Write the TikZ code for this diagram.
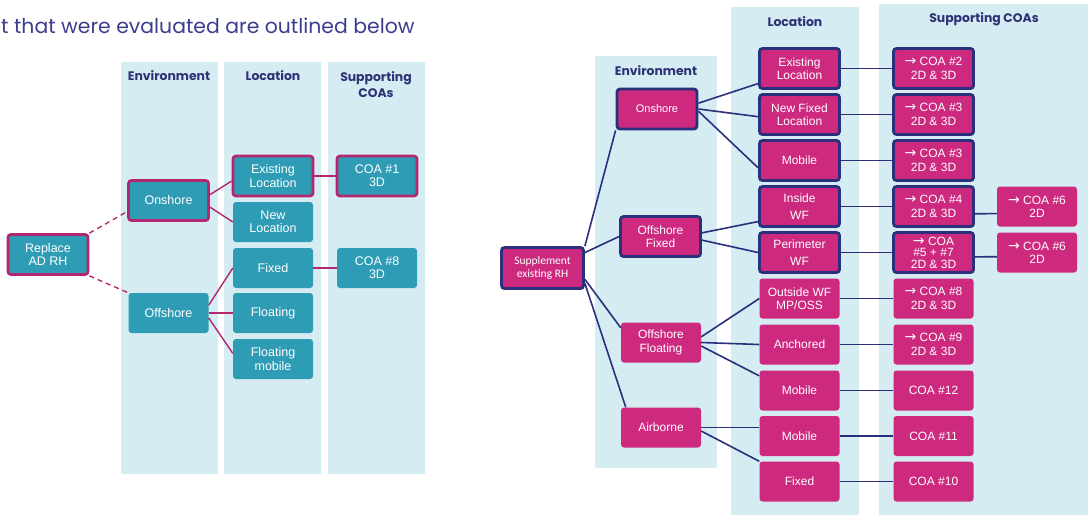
\documentclass[tikz,border=0pt]{standalone}
\usepackage{fontspec}
\setmainfont{Liberation Sans}
\newfontfamily\headfont{Poppins}
\newfontfamily\calfont{Carlito}
\newfontfamily\arrowfont{DejaVu Sans}
\usetikzlibrary{calc}

\definecolor{colbg}{HTML}{D4ECF2}
\definecolor{tealbox}{HTML}{2F9CB5}
\definecolor{magline}{HTML}{B2276F}
\definecolor{magbox}{HTML}{CD2A7F}
\definecolor{navy}{HTML}{2B2F7C}
\definecolor{headtxt}{HTML}{2E3175}
\definecolor{titletxt}{HTML}{3C3E8C}

\newcommand{\coaarrow}{{\arrowfont\fontsize{14}{13}\selectfont →}}

\begin{document}
\begin{tikzpicture}[x=1pt, y=-1pt,
	tealnode/.style={rectangle, rounded corners=3pt, fill=tealbox, text=white, align=center,
		minimum width=80, minimum height=40, inner sep=0pt, font=\fontsize{12.5}{13.3}\selectfont},
	tealhi/.style={tealnode, draw=magline, line width=2.8pt},
	magnode/.style={rectangle, rounded corners=3pt, fill=magbox, text=white, align=center,
		minimum width=80, minimum height=40, inner sep=0pt, font=\fontsize{12}{13.3}\selectfont},
	maghi/.style={magnode, draw=navy, line width=2.8pt},
	colhead/.style={text=headtxt, align=center, font=\headfont\bfseries\fontsize{12.4}{16}\selectfont},
	magwire/.style={magline, line width=1.4pt},
	navywire/.style={navy, line width=1.6pt}]
	\useasboundingbox (0,0) rectangle (1088,515);
	%
	\node [anchor=west, text=titletxt, font=\headfont\fontsize{20.4}{24}\selectfont, inner sep=0pt]
		(title) at (1,26) {t that were evaluated are outlined below};
	%
	% left tree
	\fill [colbg] (121,62) rectangle (218,474);
	\fill [colbg] (224,62) rectangle (321,474);
	\fill [colbg] (328,62) rectangle (425,474);
	\node [colhead] (envA) at (169,76) {Environment};
	\node [colhead] (locA) at (273,76) {Location};
	\node [colhead] (coaA) at (376,85) {Supporting\\COAs};
	%
	\node [tealhi] (replace) at (48,254.5) {Replace\\AD RH};
	\node [tealhi] (onshoreA) at (168.5,200.5) {Onshore};
	\node [tealnode] (offshoreA) at (168.5,313) {Offshore};
	\node [tealhi] (existA) at (273,176) {Existing\\Location};
	\node [tealnode] (newA) at (273,222) {New\\Location};
	\node [tealnode] (fixedA) at (273,268) {Fixed};
	\node [tealnode] (floatA) at (273,313) {Floating};
	\node [tealnode] (floatmobA) at (273,359) {Floating\\mobile};
	\node [tealhi] (coaoneA) at (377,176) {COA \#1\\3D};
	\node [tealnode] (coaeightA) at (377,268) {COA \#8\\3D};
	%
	\draw [magwire, dash pattern=on 5pt off 4pt] (replace.north east) -- (onshoreA.195);
	\draw [magwire, dash pattern=on 5pt off 4pt] (replace.south east) -- (offshoreA.north west);
	\draw [magwire] (onshoreA.8) -- (existA.187);
	\draw [magwire] (onshoreA.-9) -- (newA.west);
	\draw [magwire] (offshoreA.11) -- (fixedA.west);
	\draw [magwire] (offshoreA.east) -- (floatA.west);
	\draw [magwire] (offshoreA.-7) -- (floatmobA.172);
	\draw [magwire] (existA.east) -- (coaoneA.west);
	\draw [magwire] (fixedA.east) -- (coaeightA.west);
	%
	% right tree
	\fill [colbg] (595,56) rectangle (717,468);
	\fill [colbg] (731,7) rectangle (859,515);
	\fill [colbg] (879,4) rectangle (1088,515);
	\node [colhead] (envB) at (656,71) {Environment};
	\node [colhead] (locB) at (795,22) {Location};
	\node [colhead] (coaB) at (984,19) {Supporting COAs};
	%
	\node [maghi, minimum width=82, minimum height=41, font=\calfont\fontsize{11.5}{13.5}\selectfont]
		(supp) at (542.5,268) {Supplement\\existing RH};
	\node [maghi, font=\fontsize{11}{13}\selectfont] (onshoreB) at (657,109) {Onshore};
	\node [maghi] (offfixB) at (660.5,236.5) {Offshore\\Fixed};
	\node [magnode] (offfloatB) at (661,342.5) {Offshore\\Floating};
	\node [magnode] (airB) at (661,427.5) {Airborne};
	%
	\node [maghi] (existB) at (799.5,68.5) {Existing\\Location};
	\node [maghi] (newfixB) at (799.5,114.5) {New Fixed\\Location};
	\node [maghi] (mobA) at (799.5,160.5) {Mobile};
	\node [maghi] (insideB) at (799.5,206.5) {Inside\\[3pt]WF};
	\node [maghi] (perimB) at (799.5,252.5) {Perimeter\\[3pt]WF};
	\node [magnode] (outsideB) at (799.5,298.5) {Outside WF\\MP/OSS};
	\node [magnode] (anchB) at (799.5,344.5) {Anchored};
	\node [magnode] (mobB) at (799.5,390.5) {Mobile};
	\node [magnode] (mobC) at (799.5,436) {Mobile};
	\node [magnode] (fixedB) at (799.5,481.5) {Fixed};
	%
	\node [maghi] (coatwo) at (933.5,68.5) {\coaarrow{} COA \#2\\2D \& 3D};
	\node [maghi] (coathreeA) at (933.5,114.5) {\coaarrow{} COA \#3\\2D \& 3D};
	\node [maghi] (coathreeB) at (933.5,160.5) {\coaarrow{} COA \#3\\2D \& 3D};
	\node [maghi] (coafour) at (933.5,206.5) {\coaarrow{} COA \#4\\2D \& 3D};
	\node [maghi, font=\fontsize{12}{11.5}\selectfont] (coafive) at (933.5,252.5) {\coaarrow{} COA\\\#5 + \#7\\2D \& 3D};
	\node [magnode] (coaeight) at (933.5,298.5) {\coaarrow{} COA \#8\\2D \& 3D};
	\node [magnode] (coanine) at (933.5,344.5) {\coaarrow{} COA \#9\\2D \& 3D};
	\node [magnode] (coatwelve) at (933.5,390.5) {COA \#12};
	\node [magnode] (coaeleven) at (933.5,436) {COA \#11};
	\node [magnode] (coaten) at (933.5,481.5) {COA \#10};
	\node [magnode] (coasixA) at (1037,206.5) {\coaarrow{} COA \#6\\2D};
	\node [magnode] (coasixB) at (1037,252.5) {\coaarrow{} COA \#6\\2D};
	%
	\draw [navywire] (supp.north east) -- (onshoreB.south west);
	\draw [navywire] (supp.20) -- (offfixB.west);
	\draw [navywire] (supp.-15) -- (offfloatB.160);
	\draw [navywire] (supp.-20) -- ($(airB.north west)+(5,0)$);
	\draw [navywire] (onshoreB.8) -- (existB.200);
	\draw [navywire] (onshoreB.east) -- (newfixB.183);
	\draw [navywire] (onshoreB.-3) -- (mobA.190);
	\draw [navywire] (offfixB.5) -- (insideB.200);
	\draw [navywire] (offfixB.-5) -- (perimB.west);
	\draw [navywire] (offfloatB.8) -- (outsideB.west);
	\draw [navywire] (offfloatB.east) -- (anchB.west);
	\draw [navywire] (offfloatB.-5) -- (mobB.160);
	\draw [navywire] (airB.east) -- (airB.east -| mobC.west);
	\draw [navywire] (airB.-5) -- (fixedB.north west);
	%
	\draw [navywire] (existB.east) -- (coatwo.west);
	\draw [navywire] (newfixB.east) -- (coathreeA.west);
	\draw [navywire] (mobA.east) -- (coathreeB.west);
	\draw [navywire] (insideB.east) -- (coafour.west);
	\draw [navywire] (perimB.east) -- (coafive.west);
	\draw [navywire] (outsideB.east) -- (coaeight.west);
	\draw [navywire] (anchB.east) -- (coanine.west);
	\draw [navywire] (mobB.east) -- (coatwelve.west);
	\draw [navywire] (mobC.east) -- (coaeleven.west);
	\draw [navywire] (fixedB.east) -- (coaten.west);
	\draw [navywire] (coafour.-10) -- (coasixA.190);
	\draw [navywire] (coafive.-6) -- (coasixB.186);
\end{tikzpicture}
\end{document}
